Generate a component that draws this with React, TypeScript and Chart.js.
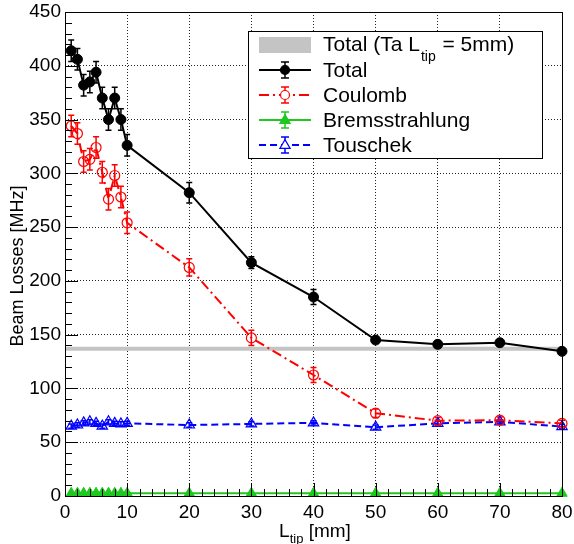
import React, { useEffect, useRef } from 'react';
import { Chart, registerables } from 'chart.js';

Chart.register(...registerables);

// ---------- data ----------
const xValues = [1, 2, 3, 4, 5, 6, 7, 8, 9, 10, 20, 30, 40, 50, 60, 70, 80];
const totalValues = [414, 406, 382, 385, 394, 370, 350, 370, 350, 326, 282, 217, 185, 145, 141, 142.5, 134.5];
const totalErrors = [10, 10, 10, 10, 10, 10, 10, 10, 10, 10, 9.5, 5.5, 7, 3, 3, 3, 3];
const coulombValues = [344, 337, 311, 313, 324, 301, 276, 298, 278, 254, 212.5, 147, 112.5, 77, 70, 70.5, 67.5];
const coulombErrors = [10, 10, 10, 10, 10, 10, 10, 10, 10, 10, 8, 7, 7, 4, 3, 3, 3];
const bremsValues = [2.5, 2.5, 2.5, 2.5, 2.5, 2.5, 2.5, 2.5, 2.5, 2.5, 2.5, 2.5, 2.5, 2.5, 2.5, 2.5, 2.5];
const bremsErrors = [0.5, 0.5, 0.5, 0.5, 0.5, 0.5, 0.5, 0.5, 0.5, 0.5, 0.5, 0.5, 0.5, 0.5, 0.5, 0.5, 0.5];
const touschekValues = [65, 66, 68, 69, 67.5, 65, 69, 67.5, 67, 67.5, 66, 67, 68, 64, 67.5, 69, 64.5];
const touschekErrors = [2, 2, 2, 2, 2, 2, 2, 2, 2, 2, 2, 2, 2, 2, 2, 2, 2];
const bandX = [0, 80];
const bandValue = 137;

const xMin = 0, xMax = 80, xStep = 10, xMinorStep = 2;
const yMin = 0, yMax = 450, yStep = 50, yMinorStep = 10;

const yTitle = 'Beam Losses [MHz]';
const xTitleMain = 'L';
const xTitleSub = 'tip';
const xTitleRest = ' [mm]';
const legendBandPre = 'Total (Ta L';
const legendBandSub = 'tip';
const legendBandPost = ' = 5mm)';
const legendLabels = ['Total', 'Coulomb', 'Bremsstrahlung', 'Touschek'];

const FONT = '"Liberation Sans", Arial, Helvetica, sans-serif';
const C_BLACK = '#000000';
const C_RED = '#ff0000';
const C_GREEN = '#1ec81e';
const C_BLUE = '#0000ff';
const C_GREY = '#c4c4c4';
const RED_DASH = [10, 4, 2, 4];
const BLUE_DASH = [7, 4];

const pts = (vals: number[]) => vals.map((v, i) => ({ x: xValues[i], y: v }));

function drawCircle(ctx: CanvasRenderingContext2D, x: number, y: number, r: number, fill: string | null, stroke: string, lw: number) {
  ctx.beginPath();
  ctx.arc(x, y, r, 0, Math.PI * 2);
  if (fill) { ctx.fillStyle = fill; ctx.fill(); }
  ctx.strokeStyle = stroke; ctx.lineWidth = lw; ctx.setLineDash([]); ctx.stroke();
}
function drawTriangle(ctx: CanvasRenderingContext2D, x: number, y: number, r: number, fill: string | null, stroke: string, lw: number) {
  const s = r * 1.2;
  ctx.beginPath();
  ctx.moveTo(x, y - s);
  ctx.lineTo(x + s * 0.95, y + s * 0.62);
  ctx.lineTo(x - s * 0.95, y + s * 0.62);
  ctx.closePath();
  if (fill) { ctx.fillStyle = fill; ctx.fill(); }
  ctx.strokeStyle = stroke; ctx.lineWidth = lw; ctx.setLineDash([]); ctx.stroke();
}
function errBar(ctx: CanvasRenderingContext2D, x: number, y1: number, y2: number, cap: number, color: string, lw: number) {
  ctx.strokeStyle = color; ctx.lineWidth = lw; ctx.setLineDash([]);
  ctx.beginPath();
  ctx.moveTo(x, y1); ctx.lineTo(x, y2);
  ctx.moveTo(x - cap, y1); ctx.lineTo(x + cap, y1);
  ctx.moveTo(x - cap, y2); ctx.lineTo(x + cap, y2);
  ctx.stroke();
}

const rootPlugin = {
  id: 'rootStyle',
  beforeDatasetsDraw(chart: any) {
    const ctx: CanvasRenderingContext2D = chart.ctx;
    const ys = chart.scales.y;
    ctx.save();
    chart.data.datasets.forEach((ds: any, i: number) => {
      if (!ds.errors) return;
      const meta = chart.getDatasetMeta(i);
      meta.data.forEach((el: any, j: number) => {
        const v = ds.data[j].y;
        const e = ds.errors[j];
        const y1 = ys.getPixelForValue(v + e);
        const y2 = ys.getPixelForValue(v - e);
        errBar(ctx, el.x, y1, y2, 3, ds.borderColor, 1.5);
      });
    });
    ctx.restore();
  },
  afterDraw(chart: any) {
    const ctx: CanvasRenderingContext2D = chart.ctx;
    const a = chart.chartArea;
    const xs = chart.scales.x;
    const ys = chart.scales.y;
    ctx.save();
    // frame
    ctx.setLineDash([]);
    ctx.strokeStyle = '#000';
    ctx.lineWidth = 1;
    ctx.strokeRect(Math.round(a.left) + 0.5, Math.round(a.top) + 0.5, Math.round(a.right - a.left), Math.round(a.bottom - a.top));
    // ticks (inward)
    ctx.beginPath();
    for (let v = xMin; v <= xMax + 1e-9; v += xMinorStep) {
      const px = Math.round(xs.getPixelForValue(v)) + 0.5;
      const len = Math.abs(v % xStep) < 1e-9 ? 13 : 7;
      ctx.moveTo(px, a.bottom); ctx.lineTo(px, a.bottom - len);
    }
    for (let v = yMin; v <= yMax + 1e-9; v += yMinorStep) {
      const py = Math.round(ys.getPixelForValue(v)) + 0.5;
      const len = Math.abs(v % yStep) < 1e-9 ? 13 : 7;
      ctx.moveTo(a.left, py); ctx.lineTo(a.left + len, py);
    }
    ctx.stroke();

    // y title
    ctx.fillStyle = '#000';
    ctx.font = `18px ${FONT}`;
    ctx.save();
    ctx.translate(23, 266);
    ctx.rotate(-Math.PI / 2);
    ctx.textAlign = 'center';
    ctx.textBaseline = 'alphabetic';
    ctx.fillText(yTitle, 0, 0);
    ctx.restore();

    // x title with subscript
    ctx.textAlign = 'left';
    ctx.textBaseline = 'alphabetic';
    ctx.font = `19px ${FONT}`;
    const wL = ctx.measureText(xTitleMain).width;
    const wR = ctx.measureText(xTitleRest).width;
    ctx.font = `13px ${FONT}`;
    const wS = ctx.measureText(xTitleSub).width;
    const total = wL + wS + wR;
    let tx = 315 - total / 2;
    const base = 537;
    ctx.font = `19px ${FONT}`;
    ctx.fillText(xTitleMain, tx, base); tx += wL;
    ctx.font = `13px ${FONT}`;
    ctx.fillText(xTitleSub, tx, base + 6); tx += wS;
    ctx.font = `19px ${FONT}`;
    ctx.fillText(xTitleRest, tx, base);

    // legend
    const lx0 = 248, ly0 = 31, lx1 = 542, ly1 = 158;
    ctx.fillStyle = '#fff';
    ctx.fillRect(lx0, ly0, lx1 - lx0, ly1 - ly0);
    ctx.strokeStyle = '#000';
    ctx.lineWidth = 1;
    ctx.strokeRect(lx0 + 0.5, ly0 + 0.5, lx1 - lx0, ly1 - ly0);
    const sx0 = 259, sx1 = 311, sxc = 285, textX = 323;
    const rows = [45, 70, 95, 120, 145];
    // row 1: band
    ctx.fillStyle = C_GREY;
    ctx.fillRect(sx0, rows[0] - 8, sx1 - sx0, 16);
    ctx.fillStyle = '#000';
    ctx.font = `21px ${FONT}`;
    let lx = textX;
    const b0 = rows[0] + 6;
    ctx.fillText(legendBandPre, lx, b0); lx += ctx.measureText(legendBandPre).width + 1;
    ctx.font = `14px ${FONT}`;
    ctx.fillText(legendBandSub, lx, b0 + 10); lx += ctx.measureText(legendBandSub).width + 1;
    ctx.font = `21px ${FONT}`;
    ctx.fillText(legendBandPost, lx, b0);
    // series rows
    const styles = [
      { c: C_BLACK, dash: [] as number[], mk: 'circle', fill: C_BLACK },
      { c: C_RED, dash: RED_DASH, mk: 'circle', fill: null },
      { c: C_GREEN, dash: [] as number[], mk: 'triangle', fill: C_GREEN },
      { c: C_BLUE, dash: BLUE_DASH, mk: 'triangle', fill: null },
    ];
    styles.forEach((s, k) => {
      const cy = rows[k + 1];
      ctx.strokeStyle = s.c; ctx.lineWidth = 2; ctx.setLineDash(s.dash);
      ctx.beginPath(); ctx.moveTo(sx0, cy); ctx.lineTo(sx1, cy); ctx.stroke();
      ctx.setLineDash([]);
      errBar(ctx, sxc, cy - 8, cy + 8, 4, s.c, 1.5);
      if (s.mk === 'circle') drawCircle(ctx, sxc, cy, 4.5, s.fill ?? '#fff', s.c, 1.2);
      else drawTriangle(ctx, sxc, cy, 4.5, s.fill ?? '#fff', s.c, 1.2);
      ctx.fillStyle = '#000';
      ctx.font = `21px ${FONT}`;
      ctx.fillText(legendLabels[k], textX, cy + 7);
    });
    ctx.restore();
  },
};

export default function App() {
  const ref = useRef<HTMLCanvasElement | null>(null);
  useEffect(() => {
    document.body.style.margin = '0';
    const canvas = ref.current;
    if (!canvas) return;
    Chart.defaults.font.family = FONT;
    const chart = new Chart(canvas, {
      type: 'line',
      data: {
        datasets: [
          {
            label: 'Total',
            data: pts(totalValues),
            errors: totalErrors,
            borderColor: C_BLACK,
            backgroundColor: C_BLACK,
            borderWidth: 2,
            pointRadius: 5,
            pointStyle: 'circle',
            pointBorderWidth: 1,
            pointBackgroundColor: C_BLACK,
            order: 0,
            clip: false,
          } as any,
          {
            label: 'Coulomb',
            data: pts(coulombValues),
            errors: coulombErrors,
            borderColor: C_RED,
            backgroundColor: 'rgba(0,0,0,0)',
            borderWidth: 2,
            borderDash: RED_DASH,
            pointRadius: 5,
            pointStyle: 'circle',
            pointBorderWidth: 1.2,
            pointBackgroundColor: 'rgba(0,0,0,0)',
            order: 1,
            clip: false,
          } as any,
          {
            label: 'Touschek',
            data: pts(touschekValues),
            errors: touschekErrors,
            borderColor: C_BLUE,
            backgroundColor: 'rgba(0,0,0,0)',
            borderWidth: 2,
            borderDash: BLUE_DASH,
            pointRadius: 6,
            pointStyle: 'triangle',
            pointBorderWidth: 1.2,
            pointBackgroundColor: 'rgba(0,0,0,0)',
            order: 2,
            clip: false,
          } as any,
          {
            label: 'Bremsstrahlung',
            data: pts(bremsValues),
            errors: bremsErrors,
            borderColor: C_GREEN,
            backgroundColor: C_GREEN,
            borderWidth: 2,
            pointRadius: 6,
            pointStyle: 'triangle',
            pointBorderWidth: 1,
            pointBackgroundColor: C_GREEN,
            order: 3,
            clip: false,
          } as any,
          {
            label: 'Total (Ta Ltip = 5mm)',
            data: bandX.map((x) => ({ x, y: bandValue })),
            borderColor: C_GREY,
            backgroundColor: C_GREY,
            borderWidth: 4,
            pointRadius: 0,
            order: 4,
          } as any,
        ],
      },
      options: {
        responsive: false,
        animation: false,
        devicePixelRatio: 1,
        layout: { padding: { top: 12, right: 12, left: 0, bottom: 0 } },
        plugins: { legend: { display: false }, tooltip: { enabled: false } },
        scales: {
          x: {
            type: 'linear',
            min: xMin,
            max: xMax,
            ticks: { stepSize: xStep, color: '#000', font: { size: 19, family: FONT }, padding: 5, maxRotation: 0 },
            grid: { color: '#222', lineWidth: 1, drawTicks: false },
            border: { display: false, dash: [1, 2] },
            afterFit: (s: any) => { s.height = 48; s.paddingLeft = 0; s.paddingRight = 0; },
          },
          y: {
            type: 'linear',
            min: yMin,
            max: yMax,
            ticks: { stepSize: yStep, color: '#000', font: { size: 19, family: FONT }, padding: 4 },
            grid: { color: '#222', lineWidth: 1, drawTicks: false },
            border: { display: false, dash: [1, 2] },
            afterFit: (s: any) => { s.width = 65; s.paddingTop = 0; s.paddingBottom = 0; },
          },
        },
      } as any,
      plugins: [rootPlugin],
    });
    return () => chart.destroy();
  }, []);
  return <canvas ref={ref} width={574} height={544} style={{ display: 'block', width: 574, height: 544 }} />;
}
